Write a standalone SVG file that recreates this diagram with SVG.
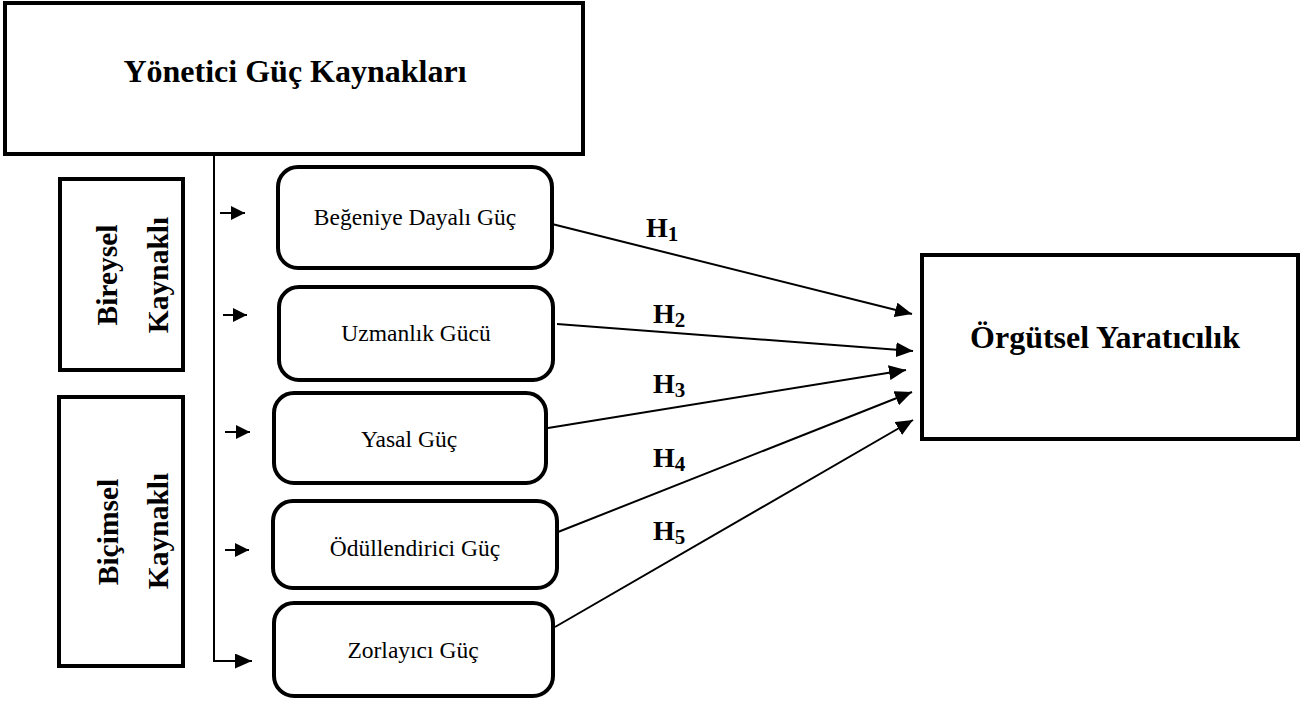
<svg xmlns="http://www.w3.org/2000/svg" width="1303" height="702" viewBox="0 0 1303 702">
<style>
.box{fill:#fff;stroke:#000;stroke-width:4}
.t{font-family:"Liberation Serif","Times New Roman",serif;fill:#000}
.n{font-size:23.5px;text-anchor:middle}
.big{font-size:32px;text-anchor:middle;font-weight:bold}
.side{font-size:29.5px;text-anchor:middle;font-weight:bold}
.h{font-size:28px;font-weight:bold}
.sub{font-size:21px}
.ln{stroke:#000;stroke-width:2;fill:none}
</style>
<defs>
<marker id="ah" markerWidth="18" markerHeight="15" refX="17" refY="7.5" orient="auto" markerUnits="userSpaceOnUse"><path d="M0,0 L17,7.5 L0,15 z" fill="#000"/></marker>
<marker id="ahs" markerWidth="15" markerHeight="14" refX="14" refY="7" orient="auto" markerUnits="userSpaceOnUse"><path d="M0,0 L14,7 L0,14 z" fill="#000"/></marker>
</defs>
<rect width="1303" height="702" fill="#fff"/>
<g id="connectors">
<polyline class="ln" points="177,153 214,153 214,661 252,661" marker-end="url(#ah)"/>
<line class="ln" x1="220" y1="213" x2="245" y2="213" marker-end="url(#ahs)"/>
<line class="ln" x1="223" y1="315" x2="247" y2="315" marker-end="url(#ahs)"/>
<line class="ln" x1="225" y1="432" x2="250" y2="432" marker-end="url(#ahs)"/>
<line class="ln" x1="225" y1="550" x2="249" y2="550" marker-end="url(#ahs)"/>
<line class="ln" x1="552" y1="224" x2="912" y2="314" marker-end="url(#ah)"/>
<line class="ln" x1="557" y1="324" x2="913" y2="351" marker-end="url(#ah)"/>
<line class="ln" x1="548" y1="428" x2="906" y2="370" marker-end="url(#ah)"/>
<line class="ln" x1="558" y1="532" x2="912" y2="392" marker-end="url(#ah)"/>
<line class="ln" x1="555" y1="627" x2="913" y2="420" marker-end="url(#ah)"/>
<text class="t h" x="646" y="237">H<tspan class="sub" dy="4">1</tspan></text>
<text class="t h" x="653" y="323">H<tspan class="sub" dy="4">2</tspan></text>
<text class="t h" x="653" y="393">H<tspan class="sub" dy="4">3</tspan></text>
<text class="t h" x="653" y="467">H<tspan class="sub" dy="4">4</tspan></text>
<text class="t h" x="653" y="540">H<tspan class="sub" dy="4">5</tspan></text>
</g>
<g id="yonetici">
<rect class="box" x="5" y="3" width="578" height="151"/>
<line class="ln" x1="177" y1="153" x2="214" y2="153" stroke-width="3"/>
<text class="t big" x="295" y="82">Yönetici Güç Kaynakları</text>
</g>
<g id="bireysel">
<rect class="box" x="60" y="179" width="123" height="191"/>
<text class="t side" transform="translate(117,275) rotate(-90)">Bireysel</text>
<text class="t side" transform="translate(168,275) rotate(-90)">Kaynaklı</text>
</g>
<g id="bicimsel">
<rect class="box" x="59" y="397" width="124" height="269"/>
<text class="t side" transform="translate(118,532) rotate(-90)">Biçimsel</text>
<text class="t side" transform="translate(168,531) rotate(-90)">Kaynaklı</text>
</g>
<g id="begeniye">
<rect class="box" x="278" y="167" width="274" height="101" rx="20"/>
<text class="t n" x="415" y="225">Beğeniye Dayalı Güç</text>
</g>
<g id="uzmanlik">
<rect class="box" x="279" y="287" width="274" height="93" rx="20"/>
<text class="t n" x="416" y="341">Uzmanlık Gücü</text>
</g>
<g id="yasal">
<rect class="box" x="274" y="393" width="272" height="90" rx="20"/>
<text class="t n" x="409" y="447">Yasal Güç</text>
</g>
<g id="odullendirici">
<rect class="box" x="273" y="501" width="284" height="87" rx="20"/>
<text class="t n" x="415" y="556">Ödüllendirici Güç</text>
</g>
<g id="zorlayici">
<rect class="box" x="274" y="603" width="279" height="93" rx="20"/>
<text class="t n" x="413" y="658">Zorlayıcı Güç</text>
</g>
<g id="orgutsel">
<rect class="box" x="922" y="255" width="376" height="184"/>
<text class="t big" x="1105" y="348">Örgütsel Yaratıcılık</text>
</g>
</svg>
